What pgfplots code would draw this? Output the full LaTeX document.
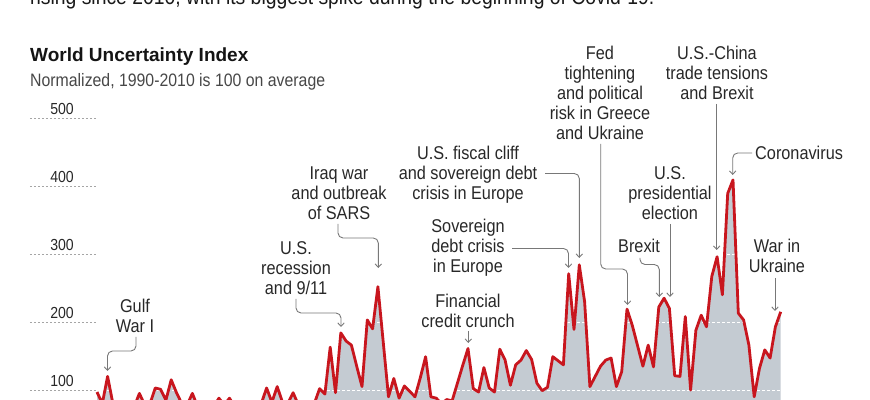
\documentclass[border=0pt]{standalone}
\usepackage{pgfplots}
\pgfplotsset{compat=1.18}
\usepackage{pgfplotstable}
\usepackage{fontspec}
\setmainfont{Liberation Sans}
\newfontfamily\cond{Liberation Sans}[FakeStretch=0.88]
\usetikzlibrary{arrows.meta}
\definecolor{wred}{RGB}{200,22,30}
\definecolor{wfill}{RGB}{196,203,210}
\definecolor{anntext}{RGB}{40,40,40}
\definecolor{arrowc}{RGB}{120,120,120}
\definecolor{gridg}{RGB}{165,165,165}

\pgfplotstableread{
q v
0 97
1 80
2 120
3 80
4 75
5 78
6 72
7 75
8 95
9 78
10 80
11 103
12 101
13 85
14 115
15 96
16 80
17 78
18 95
19 75
20 70
21 72
22 75
23 88
24 78
25 88
26 75
27 70
28 72
29 75
30 70
31 80
32 103
33 82
34 105
35 82
36 80
37 96
38 78
39 72
40 75
41 80
42 102
43 94
44 163
45 96
46 184
47 172
48 166
49 135
50 105
51 203
52 190
53 252
54 171
55 90
56 117
57 88
58 106
59 98
60 90
61 118
62 149
63 90
64 88
65 80
66 86
67 84
68 110
69 136
70 161
71 102
72 97
73 133
74 103
75 97
76 160
77 144
78 107
79 137
80 144
81 158
82 145
83 110
84 99
85 104
86 149
87 143
88 137
89 271
90 189
91 284
92 230
93 105
94 120
95 135
96 144
97 147
98 105
99 127
100 219
101 195
102 165
103 135
104 166
105 134
106 222
107 235
108 220
109 121
110 120
111 208
112 100
113 188
114 210
115 193
116 267
117 296
118 240
119 389
120 409
121 213
122 203
123 166
124 90
125 132
126 159
127 147
128 193
129 215
}\wui

\newcommand\annfont{\cond\fontsize{18.5bp}{20bp}\selectfont}
\newcommand\al[3]{\node[anchor=base, inner sep=0pt, text=anntext, font=\annfont] at (#1,#2) {#3};}
\tikzset{ann/.style={draw=arrowc, line width=0.9bp, rounded corners=5bp, -{Straight Barb[length=3.5bp,width=6.5bp]}}}

\begin{document}
\begin{tikzpicture}
\useasboundingbox (0bp,0bp) rectangle (870bp,400bp);
\clip (0bp,0bp) rectangle (870bp,400bp);

\begin{axis}[
  at={(97bp,-58bp)}, anchor=south west, scale only axis,
  width=683.7bp, height=340bp,
  xmin=0, xmax=129, ymin=0, ymax=500,
  clip=false,
  axis line style={draw=none},
  xtick=\empty,
  ytick={100,200,300,400,500},
  major tick length=0pt,
  tick style={draw=none},
  yticklabel style={anchor=base, xshift=-35bp, yshift=4bp, inner sep=0pt,
    font=\cond\fontsize{16bp}{16bp}\selectfont, text=anntext},
  /pgf/number format/assume math mode=true,
]
\addplot[draw=none, fill=wfill] table[x=q,y=v]{\wui} \closedcycle;
\pgfplotsinvokeforeach{100,200,300,400,500}{
  \draw[white, line width=1bp, dash pattern=on 3bp off 2bp] (axis cs:0,#1) -- (axis cs:129,#1);
  \draw[gridg, line width=0.8bp, dash pattern=on 2bp off 2bp] ([xshift=-67bp]axis cs:0,#1) -- (axis cs:0,#1);
}
\addplot[wred, line width=2.8bp, line join=round, mark=none] table[x=q,y=v]{\wui};
\end{axis}

\begin{scope}[x=1bp,y=-1bp,shift={(0bp,400bp)}]
\node[anchor=base west, inner sep=0pt, font=\cond\fontsize{22bp}{24bp}\selectfont, text=black!90] at (30,5) {rising since 2010, with its biggest spike during the beginning of Covid-19.};
\node[anchor=base west, inner sep=0pt, font=\bfseries\fontsize{19bp}{22bp}\selectfont, text=black!92] at (30,62) {World Uncertainty Index};
\node[anchor=base west, inner sep=0pt, font=\cond\fontsize{18bp}{20bp}\selectfont, text=black!72] at (30,87) {Normalized, 1990-2010 is 100 on average};

% Gulf War I
\al{135}{313}{Gulf}
\al{135}{333}{War I}
\draw[ann] (136,337) -- (136,351) -- (107.5,351) -- (107.5,371);
% US recession
\al{296}{255}{U.S.}
\al{296}{275}{recession}
\al{296}{295}{and 9/11}
\draw[ann] (296,299) -- (296,313) -- (341,313) -- (341,327);
% Iraq war
\al{339}{180}{Iraq war}
\al{339}{200}{and outbreak}
\al{339}{220}{of SARS}
\draw[ann] (338,224) -- (338,238) -- (378.3,238) -- (378.3,268);
% fiscal cliff
\al{468}{160}{U.S. fiscal cliff}
\al{468}{180}{and sovereign debt}
\al{468}{200}{crisis in Europe}
\draw[ann] (545,173.5) -- (579.3,173.5) -- (579.3,258);
% sovereign debt
\al{468}{233}{Sovereign}
\al{468}{253}{debt crisis}
\al{468}{273}{in Europe}
\draw[ann] (512,248.5) -- (568.5,248.5) -- (568.5,268);
% financial
\al{468}{308}{Financial}
\al{468}{328}{credit crunch}
\draw[ann] (468.3,331) -- (468.3,343);
% Fed
\al{600}{60}{Fed}
\al{600}{80}{tightening}
\al{600}{100}{and political}
\al{600}{120}{risk in Greece}
\al{600}{140}{and Ukraine}
\draw[ann] (600.7,144) -- (600.7,269) -- (627.5,269) -- (627.5,305);
% US-China
\al{717}{60}{U.S.-China}
\al{717}{80}{trade tensions}
\al{717}{100}{and Brexit}
\draw[ann] (716.7,104) -- (716.7,250);
% Coronavirus
\node[anchor=base west, inner sep=0pt, text=anntext, font=\annfont] at (755,160) {Coronavirus};
\draw[ann] (752,153) -- (732.7,153) -- (732.7,175);
% presidential
\al{670}{180}{U.S.}
\al{670}{200}{presidential}
\al{670}{220}{election}
\draw[ann] (670,224) -- (670,297);
% Brexit
\al{639}{253}{Brexit}
\draw[ann] (640,258) -- (640,264.5) -- (659.3,264.5) -- (659.3,297);
% War in Ukraine
\al{777}{253}{War in}
\al{777}{273}{Ukraine}
\draw[ann] (775,278) -- (775,311);
\end{scope}
\end{tikzpicture}
\end{document}
